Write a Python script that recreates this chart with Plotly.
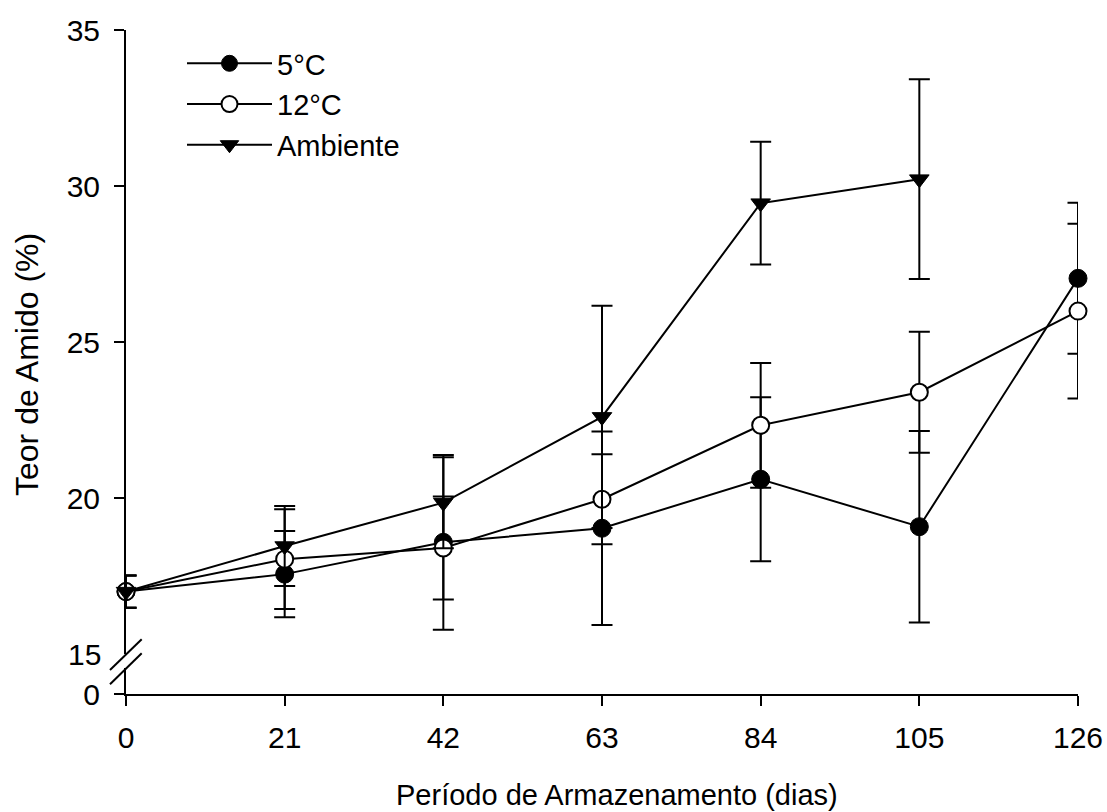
import numpy as np
import plotly.graph_objects as go

# ---- data ----
dias = [0, 21, 42, 63, 84, 105, 126]
t5 = [17.0, 17.56, 18.58, 19.03, 20.60, 19.08, 27.04]
t5_err = [0.52, 1.38, 2.80, 3.10, 2.63, 3.07, 2.42]
t12 = [17.0, 18.04, 18.40, 19.96, 22.33, 23.39, 25.99]
t12_err = [0.52, 1.60, 1.65, 1.44, 2.00, 1.94, 2.80]
amb = [17.0, 18.46, 19.85, 22.60, 29.45, 30.22, np.nan]
amb_err = [0.52, 1.28, 1.46, 3.56, 1.97, 3.20, np.nan]

x_ticks = [0, 21, 42, 63, 84, 105, 126]
y_ticks_upper = [20, 25, 30, 35]
y_tick_lower = [0]

FONT = "Liberation Sans, Arial, sans-serif"
FS_TICK = 30
FS_LEG = 29
FS_XT = 29
FS_YT = 32

fig = go.Figure()

def err(arr):
    return dict(type="data", array=arr, visible=True, color="black",
                thickness=2, width=10.5)

fig.add_trace(go.Scatter(
    x=dias, y=t5, name="5°C", mode="lines+markers",
    line=dict(color="black", width=2),
    marker=dict(symbol="circle", size=18, color="black",
                line=dict(color="black", width=1)),
    error_y=err(t5_err), xaxis="x", yaxis="y2", cliponaxis=False))

fig.add_trace(go.Scatter(
    x=dias, y=t12, name="12°C", mode="lines+markers",
    line=dict(color="black", width=2),
    marker=dict(symbol="circle", size=17, color="white",
                line=dict(color="black", width=2)),
    error_y=err(t12_err), xaxis="x", yaxis="y2", cliponaxis=False))

fig.add_trace(go.Scatter(
    x=dias, y=amb, name="Ambiente", mode="lines+markers",
    line=dict(color="black", width=2),
    marker=dict(symbol="triangle-down", size=17, color="black",
                line=dict(color="black", width=1)),
    error_y=err(amb_err), xaxis="x", yaxis="y2", cliponaxis=False))

# empty trace so that the lower (0) axis segment exists as a subplot
fig.add_trace(go.Scatter(x=[None], y=[None], xaxis="x", yaxis="y",
                         showlegend=False, hoverinfo="skip"))

axis_common = dict(showline=True, linecolor="black", linewidth=2,
                   ticks="outside", ticklen=10, tickwidth=2, tickcolor="black",
                   showgrid=False, zeroline=False, automargin=False,
                   tickfont=dict(family=FONT, size=FS_TICK, color="black"))

fig.update_layout(
    width=1107, height=812, autosize=False,
    margin=dict(l=126, r=29, t=30, b=118),
    paper_bgcolor="white", plot_bgcolor="white",
    font=dict(family=FONT, size=FS_TICK, color="black"),
    xaxis=dict(range=[0, 126], tickvals=x_ticks, anchor="y",
               ticklabelstandoff=6, **axis_common),
    yaxis=dict(domain=[0, 26 / 664], range=[0, 1], tickvals=y_tick_lower,
               ticktext=["0"], anchor="x", ticklabelstandoff=8, **axis_common),
    yaxis2=dict(domain=[40 / 664, 1], range=[15, 35], tickvals=y_ticks_upper,
                anchor="x", ticklabelstandoff=8, **axis_common),
    showlegend=True,
    legend=dict(x=(182 - 126) / 952, y=0.988, xanchor="left", yanchor="top",
                bgcolor="rgba(0,0,0,0)", font=dict(family=FONT, size=FS_LEG),
                itemwidth=85, traceorder="normal"),
)

# label "15" at the break (no tick mark there)
fig.add_annotation(x=0, xref="paper", xshift=-23, y=15, yref="y2",
                   text="15", showarrow=False, xanchor="right", yanchor="middle",
                   font=dict(family=FONT, size=FS_TICK, color="black"))

# x axis title
fig.add_annotation(x=(617 - 126) / 952, xref="paper", y=(694 - 795) / 664,
                   yref="paper", text="Período de Armazenamento (dias)",
                   showarrow=False, xanchor="center", yanchor="middle",
                   font=dict(family=FONT, size=FS_XT, color="black"))

# y axis title across the whole (broken) axis
fig.add_annotation(x=(27 - 126) / 952, xref="paper", y=(694 - 365) / 664,
                   yref="paper", text="Teor de Amido (%)", textangle=-90,
                   showarrow=False, xanchor="center", yanchor="middle",
                   font=dict(family=FONT, size=FS_YT, color="black"))

# axis break marks
for (x0, y0, x1, y1) in [(110, 670, 141.7, 639.3), (110, 684.3, 141.7, 653.3)]:
    fig.add_shape(type="line", xref="paper", yref="paper",
                  x0=(x0 - 126) / 952, y0=(694 - y0) / 664,
                  x1=(x1 - 126) / 952, y1=(694 - y1) / 664,
                  line=dict(color="black", width=2))

fig.write_html("out.html")
